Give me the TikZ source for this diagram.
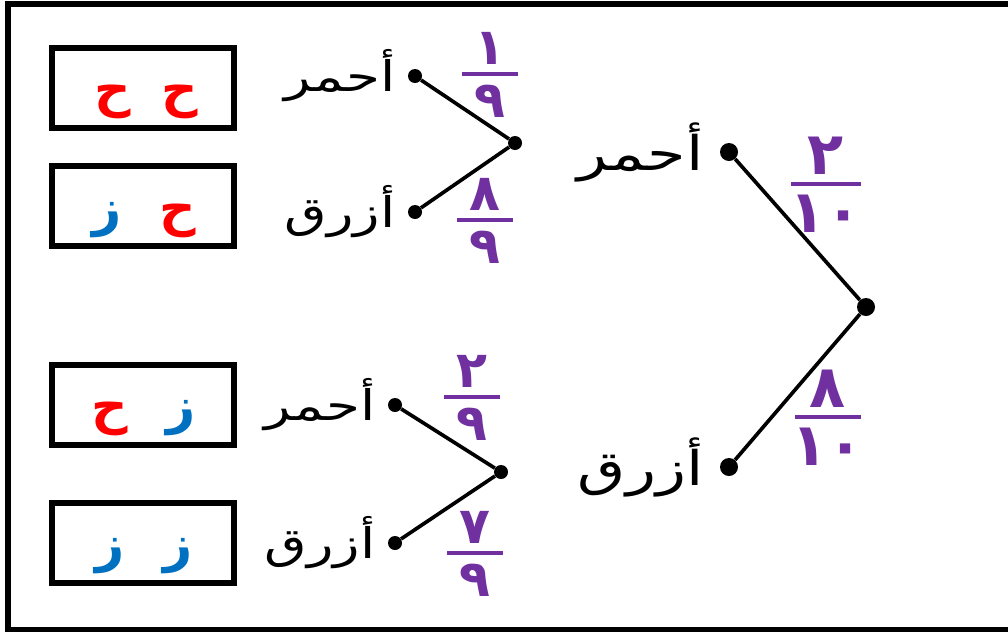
\documentclass[tikz,border=0pt]{standalone}
\usepackage{fontspec}
\usepackage{xcolor}
\usepackage{graphicx}
\usetikzlibrary{positioning}
\newfontfamily\arabicfont[Script=Arabic]{DejaVu Sans}
\TeXXeTstate=1
\definecolor{fracpurple}{RGB}{112,48,160}
\definecolor{ballred}{RGB}{255,0,0}
\definecolor{ballblue}{RGB}{0,112,192}
\newcommand{\widen}[1]{\scalebox{1.3}[1]{#1}}

\tikzset{
  branch/.style={line width=2.6pt},
  dot/.style={circle, fill=black, inner sep=0pt, minimum size=0.45cm},
  smalldot/.style={circle, fill=black, inner sep=0pt, minimum size=0.35cm},
  word/.style={font=\arabicfont\fontsize{34}{38}\selectfont, inner sep=0pt},
  smallword/.style={font=\arabicfont\fontsize{30}{34}\selectfont, inner sep=0pt},
  digit/.style={font=\arabicfont\bfseries\fontsize{42}{46}\selectfont, text=fracpurple, inner sep=0pt},
  smalldigit/.style={font=\arabicfont\bfseries\fontsize{36}{40}\selectfont, text=fracpurple, inner sep=0pt},
  fracbar/.style={fill=fracpurple, inner sep=0pt, minimum height=0.11cm},
  outcome/.style={draw, line width=3.8pt, minimum width=4.55cm, minimum height=2.0cm, inner sep=0pt},
  letter/.style={font=\arabicfont\bfseries\fontsize{36}{40}\selectfont, inner sep=0pt, anchor=base},
}

\begin{document}
\begin{tikzpicture}[x=0.025cm, y=-0.025cm]
		\useasboundingbox (0,0) rectangle (1008,632);
		% Draw frame
		\draw[line width=4pt] (1020,4) -- (8,4) -- (8,630) -- (1020,630);
		% Draw outcome boxes
		\node[outcome] (box1) at (143,88) {};
		\node[outcome] (box2) at (143,206) {};
		\node[outcome] (box3) at (143,405) {};
		\node[outcome] (box4) at (143,543) {};
		% Letters in boxes
		\node[letter, text=ballred] (box1a) at (180,106) {ح};
		\node[letter, text=ballred] (box1b) at (113,106) {ح};
		\node[letter, text=ballred] (box2a) at (178,225) {ح};
		\node[letter, text=ballblue] (box2b) at (107,225) {ز};
		\node[letter, text=ballblue] (box3a) at (181,423) {ز};
		\node[letter, text=ballred] (box3b) at (110,423) {ح};
		\node[letter, text=ballblue] (box4a) at (178,561) {ز};
		\node[letter, text=ballblue] (box4b) at (110,561) {ز};
		% First stage
		\node[dot] (root) at (866,307) {};
		\node[dot] (red) at (729,152) {};
		\node[dot] (blue) at (729,467) {};
		\draw[branch] (root) -- (red);
		\draw[branch] (root) -- (blue);
		\node[word, left=0.4cm of red] (redword) {\widen{\beginR أحمر\endR}};
		\node[word, left=0.4cm of blue] (blueword) {\widen{\beginR أزرق\endR}};
		% Second stage after red
		\node[smalldot] (redsplit) at (515,143) {};
		\node[smalldot] (redred) at (415,76) {};
		\node[smalldot] (redblue) at (415,212) {};
		\draw[branch] (redsplit) -- (redred);
		\draw[branch] (redsplit) -- (redblue);
		\node[smallword, left=0.3cm of redred] (redredword) {\widen{\beginR أحمر\endR}};
		\node[smallword, left=0.3cm of redblue] (redblueword) {\widen{\beginR أزرق\endR}};
		% Second stage after blue
		\node[smalldot] (bluesplit) at (501,472) {};
		\node[smalldot] (bluered) at (395,405) {};
		\node[smalldot] (blueblue) at (395,543) {};
		\draw[branch] (bluesplit) -- (bluered);
		\draw[branch] (bluesplit) -- (blueblue);
		\node[smallword, left=0.3cm of bluered] (blueredword) {\widen{\beginR أحمر\endR}};
		\node[smallword, left=0.3cm of blueblue] (bluebluework) {\widen{\beginR أزرق\endR}};
		% Probabilities
		\node[fracbar, minimum width=1.75cm] (pred) at (826,184) {};
		\node[digit, above=5pt of pred] (prednum) {٢};
		\node[digit, below=6pt of pred] (predden) {١٠};
		\node[fracbar, minimum width=1.65cm] (pblue) at (828,417) {};
		\node[digit, above=5pt of pblue] (pbluenum) {٨};
		\node[digit, below=6pt of pblue] (pblueden) {١٠};
		\node[fracbar, minimum width=1.4cm] (prr) at (490,74) {};
		\node[smalldigit, above=5pt of prr] (prrnum) {١};
		\node[smalldigit, below=6pt of prr] (prrden) {٩};
		\node[fracbar, minimum width=1.4cm] (prb) at (485,220) {};
		\node[smalldigit, above=5pt of prb] (prbnum) {٨};
		\node[smalldigit, below=6pt of prb] (prbden) {٩};
		\node[fracbar, minimum width=1.4cm] (pbr) at (472,397) {};
		\node[smalldigit, above=5pt of pbr] (pbrnum) {٢};
		\node[smalldigit, below=6pt of pbr] (pbrden) {٩};
		\node[fracbar, minimum width=1.4cm] (pbb) at (475,553) {};
		\node[smalldigit, above=5pt of pbb] (pbbnum) {٧};
		\node[smalldigit, below=6pt of pbb] (pbbden) {٩};
\end{tikzpicture}
\end{document}
